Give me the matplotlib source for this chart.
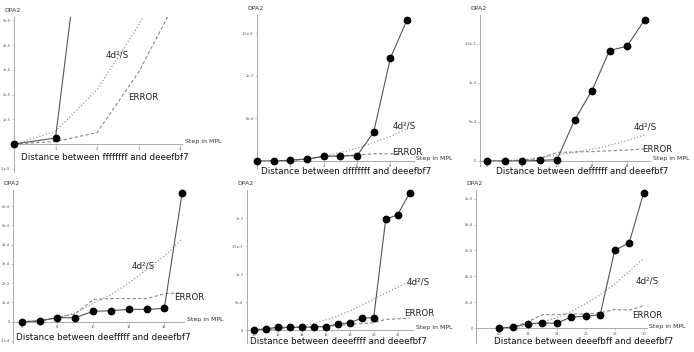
import numpy as np
import matplotlib
matplotlib.use("Agg")
import matplotlib.pyplot as plt

# ---- data (DPA2 vs. step in MPL) ----
steps_1 = [0, 1, 2, 3, 4]
dpa2_1 = [0, 2.4e-6, 1.38e-4]
bound_1 = [0, 5.1e-6, 2.2e-5, 4.8e-5, 8.0e-5]
error_1 = [0, 1.0e-6, 4.6e-6, 2.9e-5, 6.1e-5]

steps_2 = [0, 1, 2, 3, 4, 5, 6, 7, 8, 9]
dpa2_2 = [0, 0, 1.0e-5, 2.4e-5, 5.5e-5, 6.0e-5, 6.3e-5, 3.4e-4, 1.21e-3, 1.66e-3]
bound_2 = [0, 0, 8e-6, 2.5e-5, 6e-5, 1.0e-4, 1.5e-4, 2.2e-4, 2.9e-4, 3.8e-4]
error_2 = [0, 0, 5e-6, 2e-5, 5e-5, 6e-5, 7e-5, 8.5e-5, 8.5e-5, 8.5e-5]

steps_3 = [6, 7, 8, 9, 10, 11, 12, 13, 14, 15]
dpa2_3 = [0, 0, 0, 8e-6, 1.7e-5, 5.2e-4, 9.0e-4, 1.41e-3, 1.465e-3, 1.8e-3]
bound_3 = [0, 3e-6, 1.5e-5, 4e-5, 8e-5, 1.1e-4, 1.5e-4, 2.0e-4, 2.6e-4, 3.3e-4]
error_3 = [0, 2e-6, 1e-5, 3e-5, 1.1e-4, 1.15e-4, 1.2e-4, 1.3e-4, 1.4e-4, 1.55e-4]

steps_4 = [6, 7, 8, 9, 10, 11, 12, 13, 14, 15]
dpa2_4 = [0, 3.5e-6, 2.1e-5, 2.1e-5, 5.4e-5, 5.7e-5, 6.4e-5, 6.4e-5, 6.9e-5, 6.7e-4]
bound_4 = [0, 5e-6, 2e-5, 4.5e-5, 9.5e-5, 1.4e-4, 2.0e-4, 2.7e-4, 3.4e-4, 4.3e-4]
error_4 = [0, 5e-6, 2.3e-5, 4e-5, 1.15e-4, 1.2e-4, 1.2e-4, 1.2e-4, 1.45e-4, 1.5e-4]

steps_5 = [10, 11, 12, 13, 14, 15, 16, 17, 18, 19, 20, 21, 22, 23]
dpa2_5 = [0, 2.4e-5, 4.8e-5, 4.8e-5, 4.8e-5, 5.4e-5, 6.0e-5, 1.07e-4, 1.3e-4,
          2.1e-4, 2.2e-4, 1.975e-3, 2.06e-3, 2.45e-3]
bound_5 = [0, 5e-6, 2e-5, 4e-5, 8e-5, 1.2e-4, 1.8e-4, 2.5e-4, 3.4e-4, 4.4e-4,
           5.5e-4, 6.6e-4, 7.6e-4, 8.7e-4]
error_5 = [0, 1e-5, 2.5e-5, 4e-5, 5e-5, 5.5e-5, 6.5e-5, 8e-5, 1.0e-4, 1.15e-4,
           1.3e-4, 1.9e-4, 2.0e-4, 2.1e-4]

steps_6 = [20, 21, 22, 23, 24, 25, 26, 27, 28, 29, 30]
dpa2_6 = [0, 1e-5, 3.6e-5, 4.1e-5, 3.9e-5, 8.7e-5, 9.3e-5, 1.05e-4, 6.0e-4, 6.6e-4, 1.046e-3]
bound_6 = [0, 5e-6, 2e-5, 5e-5, 8e-5, 1.3e-4, 1.9e-4, 2.6e-4, 3.4e-4, 4.4e-4, 5.4e-4]
error_6 = [0, 1e-5, 5e-5, 1.05e-4, 1.05e-4, 1.1e-4, 1.1e-4, 1.2e-4, 1.45e-4, 1.4e-4, 1.75e-4]

titles = ["Distance between ffffffff and deeefbf7",
          "Distance between dfffffff and deeefbf7",
          "Distance between deffffff and deeefbf7",
          "Distance between deefffff and deeefbf7",
          "Distance between deeeffff and deeefbf7",
          "Distance between deeefbff and deeefbf7"]

xticks = [[1, 2, 3, 4],
          [2, 4, 6, 8],
          [6, 8, 10, 12, 14],
          [6, 8, 10, 12, 14],
          [10, 12, 14, 16, 18, 20, 22],
          [20, 22, 24, 26, 28, 30]]
yticks = [[-1e-5, 1e-5, 2e-5, 3e-5, 4e-5, 5e-5],
          [5e-4, 1e-3, 1.5e-3],
          [0, 5e-4, 1e-3, 1.5e-3],
          [-1e-4, 0, 1e-4, 2e-4, 3e-4, 4e-4, 5e-4, 6e-4],
          [0, 5e-4, 1e-3, 1.5e-3, 2e-3],
          [0, 2e-4, 4e-4, 6e-4, 8e-4, 1e-3]]
ylabels = [["-1e-5", "1e-5", "2e-5", "3e-5", "4e-5", "5e-5"],
           ["5e-4", "1e-3", "1.5e-3"],
           ["0", "5e-4", "1e-3", "1.5e-3"],
           ["-1e-4", "0", "1e-4", "2e-4", "3e-4", "4e-4", "5e-4", "6e-4"],
           ["0", "5e-4", "1e-3", "1.5e-3", "2e-3"],
           ["0", "2e-4", "4e-4", "6e-4", "8e-4", "1e-3"]]

W, H = 694, 352

# layout: (pixel x of xref, xref, px per step, pixel y of zero, px per unit,
#          xlim, ylim, x where y-axis sits, clip)
layout = [
    (14, 0, 41.5, 144, 2.47e6, (-0.1, 4.05), (-1.15e-5, 5.15e-5), 0, True),
    (257, 0, 16.67, 161, 85000, (-1.2, 9.4), (-1.0e-4, 1.72e-3), 0, False),
    (487, 6, 17.5, 161, 78333, (5.45, 15.3), (-7e-5, 1.86e-3), 5.6, False),
    (21.7, 6, 17.83, 321.7, 192667, (5.35, 15.1), (-1.12e-4, 6.85e-4), 5.53, False),
    (253.7, 10, 12.0, 330, 56000, (9.2, 23.3), (-2.4e-4, 2.5e-3), 9.42, False),
    (498.7, 20, 14.5, 328.3, 129667, (18.4, 30.2), (-1.15e-4, 1.065e-3), 18.46, False),
]

# label centres in pixels: (4d2/S, ERROR, title)
text_pos = [((117, 55), (143, 97), (105, 158)),
            ((404, 126), (407, 153), (346, 172)),
            ((645, 127), (657, 150), (582, 171)),
            ((143, 266), (189, 298), (103, 337)),
            ((418, 282), (419, 313), (338, 341)),
            ((647, 281), (647, 315), (584, 341))]

series = [(steps_1, dpa2_1, bound_1, error_1),
          (steps_2, dpa2_2, bound_2, error_2),
          (steps_3, dpa2_3, bound_3, error_3),
          (steps_4, dpa2_4, bound_4, error_4),
          (steps_5, dpa2_5, bound_5, error_5),
          (steps_6, dpa2_6, bound_6, error_6)]


def main():
    fig = plt.figure(figsize=(W / 100, H / 100), dpi=100)
    fig.patch.set_facecolor("white")

    for i, (xs, dpa, bnd, err) in enumerate(series):
        xp, xref, sx, y0, sy, xlim, ylim, yax, clip = layout[i]
        left = xp + (xlim[0] - xref) * sx
        right = xp + (xlim[1] - xref) * sx
        top = y0 - ylim[1] * sy
        bottom = y0 - ylim[0] * sy
        ax = fig.add_axes([left / W, 1 - bottom / H, (right - left) / W, (bottom - top) / H])
        ax.set_xlim(xlim)
        ax.set_ylim(ylim)
        ax.patch.set_alpha(0)

        ax.plot(xs, bnd, ls=":", color="#999999", lw=0.9, clip_on=clip)
        ax.plot(xs, err, ls="--", color="#888888", lw=0.8, dashes=(3, 2), clip_on=clip)
        ax.plot(xs[:len(dpa)], dpa, "-", color="#555555", lw=0.8, clip_on=clip)
        ax.plot(xs[:len(dpa)], dpa, "o", color="black", ms=4.6, clip_on=False,
                zorder=5)

        for s in ["top", "right"]:
            ax.spines[s].set_visible(False)
        ax.spines["left"].set_position(("data", yax))
        ax.spines["bottom"].set_position(("data", 0))
        ax.spines["bottom"].set_bounds(max(xlim[0], yax - 0.05 * (xlim[1] - xlim[0]) * 0), xlim[1])
        for s in ["left", "bottom"]:
            ax.spines[s].set_color("#aaaaaa")
            ax.spines[s].set_linewidth(0.7)

        ax.set_xticks(xticks[i])
        ax.set_xticklabels([str(t) for t in xticks[i]])
        ax.set_yticks(yticks[i])
        ax.set_yticklabels(ylabels[i])
        ax.tick_params(length=1.5, width=0.5, color="#aaaaaa", labelsize=2.6,
                       labelcolor="#555555", pad=1)

        ax.annotate("DPA2", xy=(yax, ylim[1]), xytext=(-1, 3), textcoords="offset points",
                    ha="center", va="bottom", fontsize=4.4, color="#333333")
        ax.annotate("Step in MPL", xy=(xlim[1], 0), xytext=(2, 1.5), textcoords="offset points",
                    ha="left", va="center", fontsize=4.5, color="#333333")

        (bx, by), (ex, ey), (tx, ty) = text_pos[i]
        fig.text(bx / W, 1 - by / H, "4d²/S", ha="center", va="center", fontsize=6.3,
                 color="#222222")
        fig.text(ex / W, 1 - ey / H, "ERROR", ha="center", va="center", fontsize=6.2,
                 color="#222222")
        fig.text(tx / W, 1 - ty / H, titles[i], ha="center", va="center", fontsize=6.3,
                 color="#111111")

    fig.savefig("out.png", dpi=100)


if __name__ == "__main__":
    main()
